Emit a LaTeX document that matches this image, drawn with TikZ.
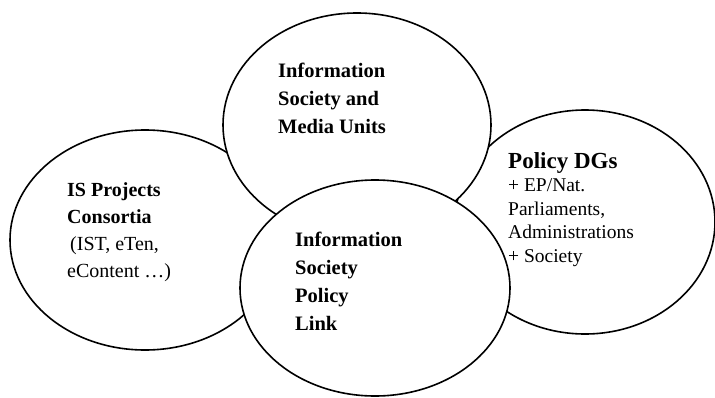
\documentclass[tikz,border=0pt]{standalone}
\usepackage{fontspec}
\setmainfont{Liberation Serif}
\usetikzlibrary{shapes.geometric}

\begin{document}
\begin{tikzpicture}[x=1pt,y=-1pt,
set/.style={ellipse,draw,fill=white,line width=1.6pt,inner sep=0pt},
txt/.style={anchor=base west,align=left,inner sep=0pt,font=\fontsize{20.5}{28}\selectfont\bfseries}]
\useasboundingbox (0,0) rectangle (715,397);
\node [set,minimum width=270pt,minimum height=220pt] (a) at (145,240) {};
\node [set,minimum width=260pt,minimum height=224pt] (b) at (585,222) {};
\node [set,minimum width=268pt,minimum height=224pt] (c) at (357,125) {};
\node [set,minimum width=270pt,minimum height=216pt] (d) at (375,288) {};
\node [txt] (e) at (278,133) {Information\\Society and\\Media Units};
\node [txt] (f) at (295,330) {Information\\Society\\Policy\\Link};
\node [txt,font=\fontsize{20}{27}\selectfont] (g) at (67,277) {\textbf{IS Projects}\\\textbf{Consortia}\\\hspace*{3pt}(IST, eTen,\\eContent …)};
\node [txt,font=\fontsize{19.5}{23.4}\selectfont] (h) at (508,262) {{\fontsize{23}{23.4}\selectfont\bfseries Policy DGs}\\+ EP/Nat.\\Parliaments,\\Administrations\\+ Society};
\end{tikzpicture}
\end{document}
